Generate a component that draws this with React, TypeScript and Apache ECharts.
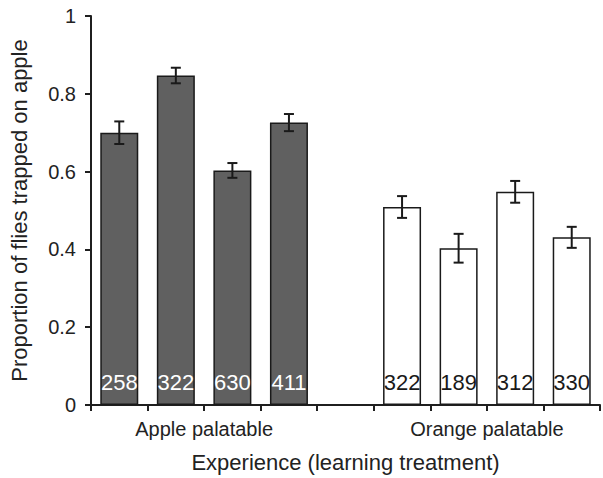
import React, { useEffect, useRef } from "react";
import * as echarts from "echarts";

const categories = ["A1", "A2", "A3", "A4", "gap", "O1", "O2", "O3", "O4"];
const appleValues = [0.7, 0.847, 0.603, 0.726];
const appleErrors = [0.029, 0.02, 0.019, 0.022];
const appleCounts = ["258", "322", "630", "411"];
const orangeValues = [0.509, 0.403, 0.548, 0.431];
const orangeErrors = [0.028, 0.037, 0.028, 0.027];
const orangeCounts = ["322", "189", "312", "330"];
const groupLabels: Record<number, string> = { 2: "Apple palatable", 7: "Orange palatable" };
const yTicks = [0, 0.2, 0.4, 0.6, 0.8, 1];

const FONT = "'Liberation Sans', Arial, sans-serif";

export default function App() {
  const ref = useRef<HTMLDivElement>(null);
  useEffect(() => {
    if (!ref.current) return;
    const chart = echarts.init(ref.current, null, { renderer: "svg" });

    const barData: any[] = [];
    const errData: any[] = [];
    const counts: string[] = [];
    appleValues.forEach((v, i) => {
      barData.push({ value: v, itemStyle: { color: "#606060" }, label: { color: "#ffffff" } });
      errData.push([i, v, appleErrors[i]]);
      counts.push(appleCounts[i]);
    });
    barData.push("-");
    counts.push("");
    orangeValues.forEach((v, i) => {
      barData.push({ value: v, itemStyle: { color: "#ffffff" }, label: { color: "#1a1a1a" } });
      errData.push([i + 5, v, orangeErrors[i]]);
      counts.push(orangeCounts[i]);
    });

    const axisColor = "#1f1f1f";

    chart.setOption({
      animation: false,
      grid: { left: 91, top: 16, width: 514, height: 390 },
      xAxis: [
        {
          type: "category",
          data: categories,
          position: "bottom",
          axisLine: { lineStyle: { color: axisColor, width: 2 } },
          axisTick: { show: true, length: 6, lineStyle: { color: axisColor, width: 2 } },
          axisLabel: { show: false },
          name: "Experience (learning treatment)",
          nameLocation: "middle",
          nameGap: 46,
          nameTextStyle: { fontFamily: FONT, fontSize: 22, color: "#222" },
        },
        {
          type: "value",
          min: 0,
          max: 9,
          interval: 1,
          position: "bottom",
          axisLine: { show: false },
          axisTick: { show: false },
          splitLine: { show: false },
          axisLabel: {
            margin: 14,
            fontFamily: FONT,
            fontSize: 20,
            color: "#222",
            formatter: (v: number) => groupLabels[v] || "",
          },
        },
      ],
      yAxis: {
        type: "value",
        min: 0,
        max: 1,
        interval: 0.2,
        axisLine: { show: true, lineStyle: { color: axisColor, width: 2 } },
        axisTick: { show: true, length: 6, lineStyle: { color: axisColor, width: 2 } },
        splitLine: { show: false },
        axisLabel: {
          margin: 15,
          fontFamily: FONT,
          fontSize: 20,
          color: "#222",
          formatter: (v: number) => (yTicks.includes(Math.round(v * 10) / 10) ? String(Math.round(v * 10) / 10) : ""),
        },
        name: "Proportion of flies trapped on apple",
        nameLocation: "middle",
        nameGap: 61,
        nameTextStyle: { fontFamily: FONT, fontSize: 22, color: "#222" },
      },
      series: [
        {
          type: "bar",
          xAxisIndex: 0,
          data: barData,
          barWidth: 38,
          itemStyle: { borderColor: "#1a1a1a", borderWidth: 1.5 },
          label: {
            show: true,
            position: "insideBottom",
            distance: 12,
            fontFamily: FONT,
            fontSize: 22,
            formatter: (p: any) => counts[p.dataIndex],
          },
        },
        {
          type: "custom",
          xAxisIndex: 0,
          data: errData,
          z: 10,
          renderItem: (params: any, api: any) => {
            const x = api.value(0);
            const v = api.value(1);
            const e = api.value(2);
            const top = api.coord([x, v + e]);
            const bot = api.coord([x, v - e]);
            const hw = 5;
            const style = { stroke: "#1a1a1a", lineWidth: 2 };
            return {
              type: "group",
              children: [
                { type: "line", shape: { x1: top[0], y1: top[1], x2: bot[0], y2: bot[1] }, style },
                { type: "line", shape: { x1: top[0] - hw, y1: top[1], x2: top[0] + hw, y2: top[1] }, style },
                { type: "line", shape: { x1: bot[0] - hw, y1: bot[1], x2: bot[0] + hw, y2: bot[1] }, style },
              ],
            };
          },
        },
      ],
    });
    return () => chart.dispose();
  }, []);
  return (
    <div
      ref={ref}
      style={{ position: "absolute", left: 0, top: 0, width: 603, height: 478, background: "#fff" }}
    />
  );
}
